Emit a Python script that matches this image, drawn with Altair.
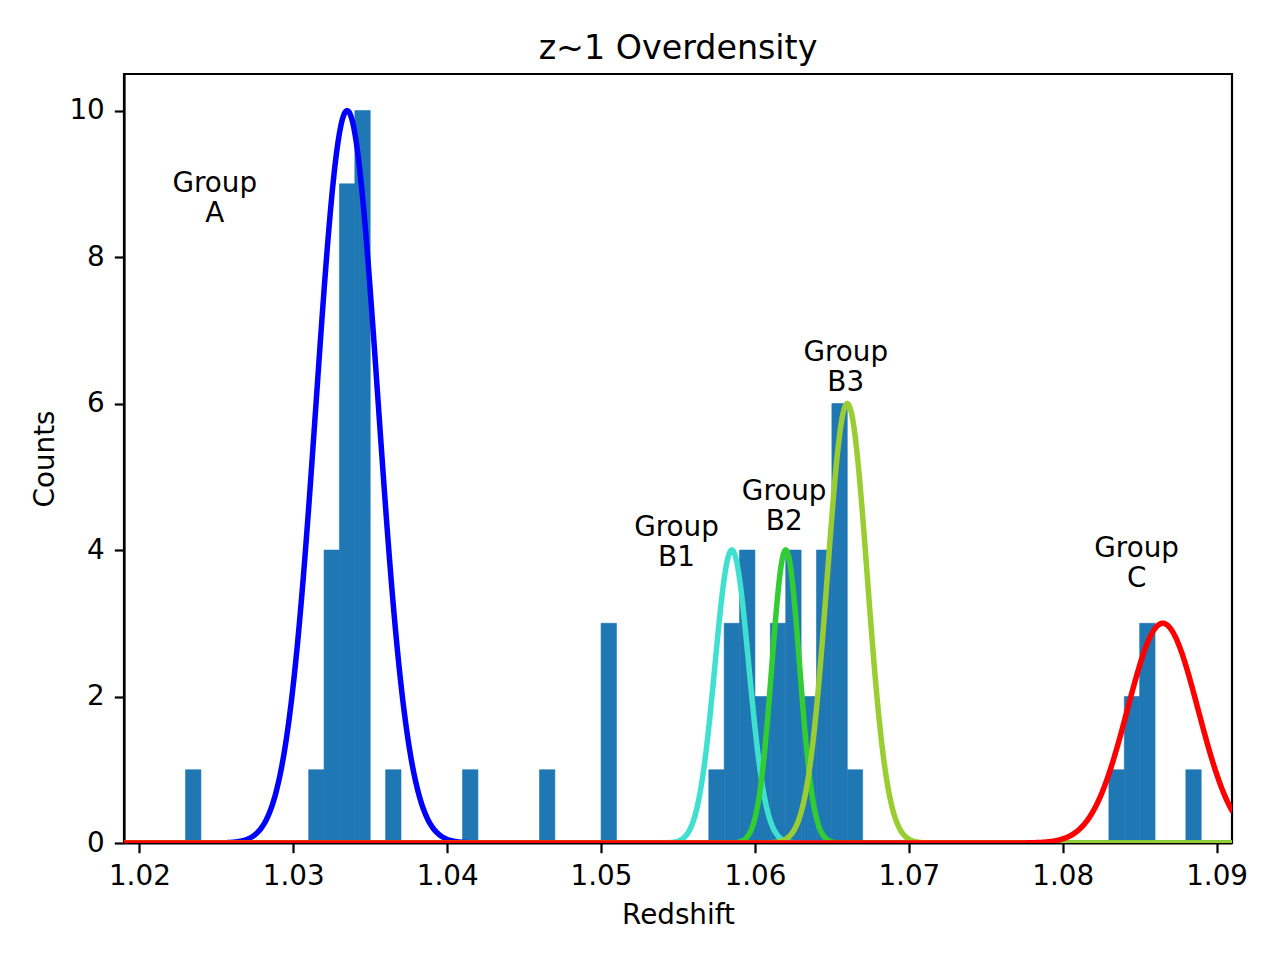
import altair as alt
import pandas as pd

# ---- histogram (bin lower edges, counts) ----
bin_lo = [1.023, 1.031, 1.032, 1.033, 1.034, 1.036, 1.041, 1.046, 1.050,
          1.057, 1.058, 1.059, 1.060, 1.061, 1.062, 1.063, 1.064, 1.065, 1.066,
          1.083, 1.084, 1.085, 1.088]
counts = [1, 1, 4, 9, 10, 1, 1, 1, 3,
          1, 3, 4, 2, 3, 4, 2, 4, 6, 1,
          1, 2, 3, 1]
BIN_W = 0.001

# ---- Gaussian group fits ----
groups = ["A", "B1", "B2", "B3", "C"]
centers = [1.0335, 1.0585, 1.0620, 1.0660, 1.0865]
amps = [10, 4, 4, 6, 3]
sigmas = [0.0020, 0.0011, 0.0009, 0.0013, 0.0023]
colors = ["#0000ff", "#40e0d0", "#32cd32", "#9acd32", "#ff0000"]

# ---- annotation positions ----
label_x = [1.0249, 1.0549, 1.0619, 1.0659, 1.0848]
label_y = [8.89, 4.19, 4.68, 6.58, 3.91]

x_ticks = [1.02, 1.03, 1.04, 1.05, 1.06, 1.07, 1.08, 1.09]
y_ticks = [0, 2, 4, 6, 8, 10]

XMIN, XMAX = 1.019, 1.091
YMAX = 10.5
FONT = "DejaVu Sans"
FS = 27.8

xscale = alt.Scale(domain=[XMIN, XMAX], nice=False, zero=False)
yscale = alt.Scale(domain=[0, YMAX], nice=False)

x_axis = alt.Axis(values=x_ticks, format=".2f", labelFlush=False,
                  titleX=554, titleY=80.6, titleAlign="center",
                  titleBaseline="alphabetic", title="Redshift")
y_axis = alt.Axis(values=y_ticks, format="d", labelFlush=False,
                  titleX=-70.7, titleY=384.5, titleAngle=270,
                  titleAlign="center", titleBaseline="alphabetic", title="Counts")

hist_df = pd.DataFrame({"lo": bin_lo, "n": counts})
bars = (
    alt.Chart(hist_df)
    .transform_calculate(hi=f"datum.lo + {BIN_W}")
    .mark_bar(color="#1f77b4", stroke="#1f77b4", strokeWidth=0.6, clip=True)
    .encode(
        x=alt.X("lo:Q", scale=xscale, axis=x_axis),
        x2="hi:Q",
        y=alt.Y("n:Q", scale=yscale, axis=y_axis),
        y2=alt.datum(0),
    )
)

curves = []
for g, c, a, s, col in zip(groups, centers, amps, sigmas, colors):
    curves.append(
        alt.Chart(alt.sequence(XMIN, XMAX + 0.00005, 0.00005, as_="z"))
        .transform_calculate(f=f"{a} * exp(-0.5 * pow((datum.z - {c}) / {s}, 2))")
        .mark_line(color=col, strokeWidth=5.5, clip=True)
        .encode(x=alt.X("z:Q", scale=xscale), y=alt.Y("f:Q", scale=yscale))
    )

lab_df = pd.DataFrame({"x": label_x, "y": label_y,
                       "t": ["Group\n" + g for g in groups]})
labels = (
    alt.Chart(lab_df)
    .mark_text(font=FONT, fontSize=FS, lineBreak="\n", lineHeight=30,
               align="center", baseline="alphabetic", color="black")
    .encode(x=alt.X("x:Q", scale=xscale), y=alt.Y("y:Q", scale=yscale), text="t:N")
)

chart = (
    alt.layer(bars, *curves, labels)
    .properties(
        width=1108, height=769,
        padding={"left": 116, "top": 66, "right": 40, "bottom": 109},
        autosize=alt.AutoSizeParams(type="none"),
        title=alt.Title("z~1 Overdensity", font=FONT, fontSize=33.3,
                        fontWeight="normal", color="black",
                        baseline="alphabetic", offset=15.7, dy=34, anchor="middle"),
    )
    .configure_view(stroke="black", strokeWidth=2.2)
    .configure_axis(
        domainColor="black", domainWidth=2.2,
        tickColor="black", tickWidth=2.2, tickSize=9.7,
        labelFont=FONT, labelFontSize=FS, labelColor="black", labelPadding=10,
        titleFont=FONT, titleFontSize=FS, titleFontWeight="normal", titleColor="black",
        grid=False, zindex=1,
    )
)

chart.save("out.html", embed_options={"renderer": "svg", "actions": False})
